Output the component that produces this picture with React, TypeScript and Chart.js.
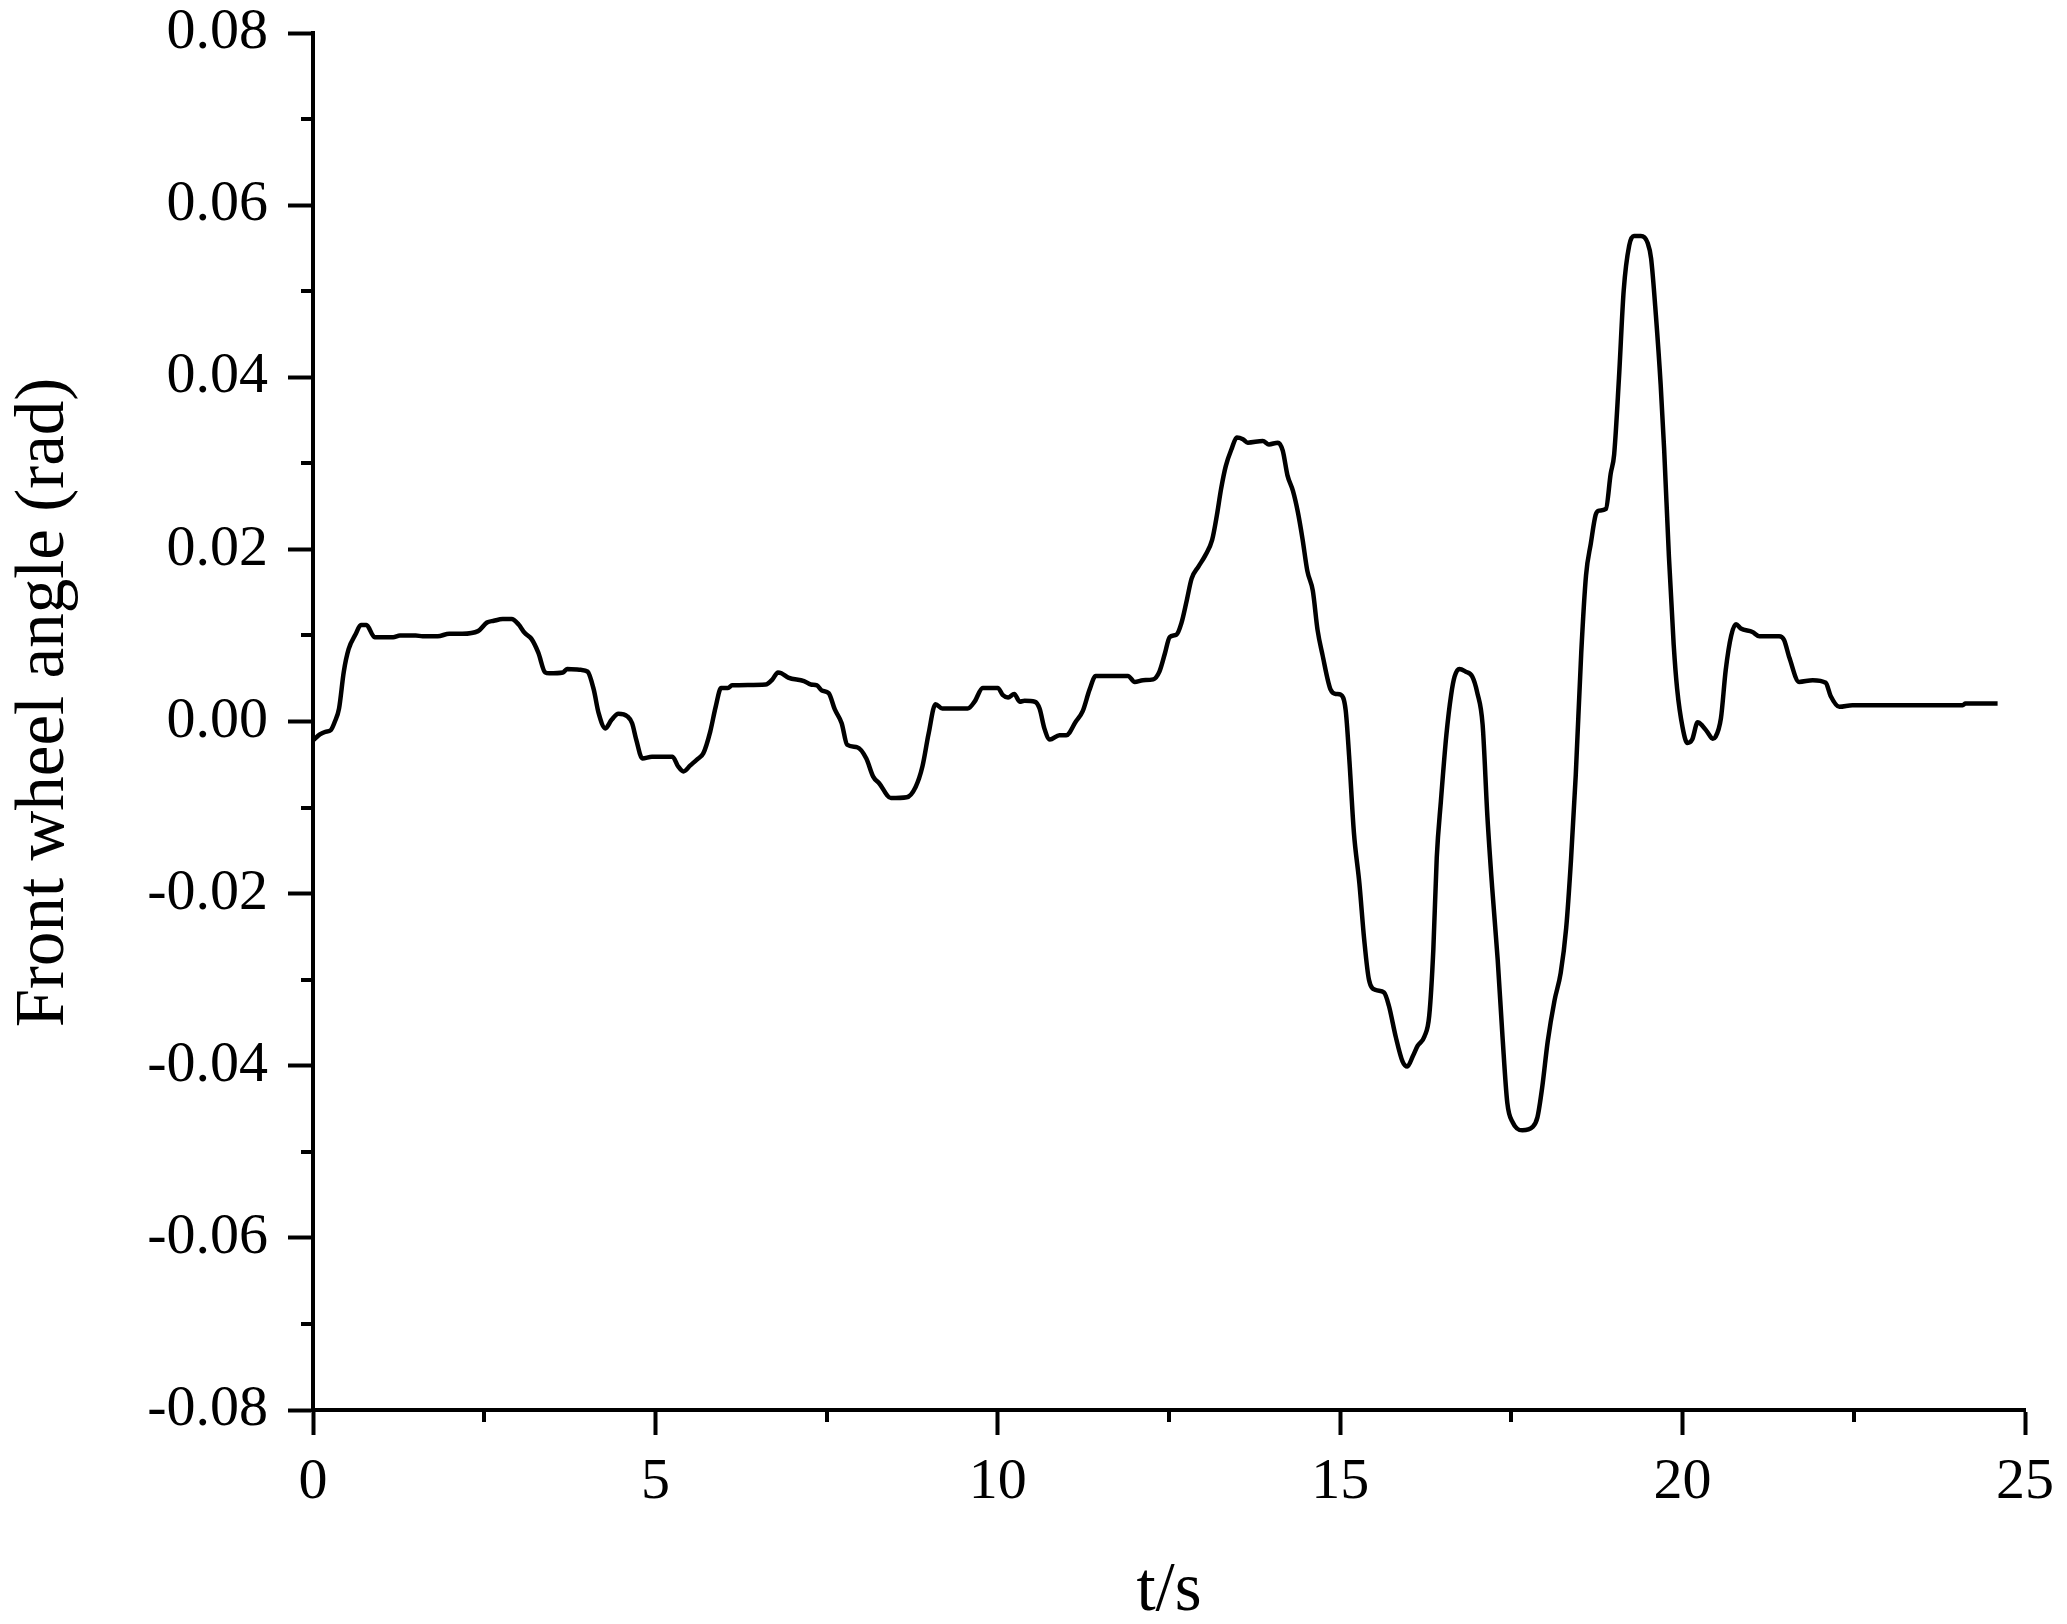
import React, { useEffect, useRef } from 'react';
import { Chart, registerables } from 'chart.js';

Chart.register(...registerables);

// ---- data ----
const timeValues: number[] = [
  0.0, 0.1, 0.18, 0.26, 0.32, 0.38, 0.45, 0.52, 0.62, 0.7, 0.78, 0.9, 1.17, 1.27, 1.5, 1.6, 1.82, 1.99, 2.18, 2.41,
  2.54, 2.64, 2.77, 2.9, 3.0, 3.09, 3.19, 3.29, 3.39, 3.45, 3.65, 3.71, 3.91, 4.01, 4.1, 4.17, 4.27, 4.36, 4.46, 4.59,
  4.66, 4.72, 4.81, 4.95, 5.25, 5.33, 5.41, 5.51, 5.61, 5.7, 5.8, 5.88, 5.96, 6.06, 6.12, 6.61, 6.71, 6.79, 6.84, 6.94,
  7.17, 7.27, 7.36, 7.43, 7.53, 7.62, 7.72, 7.8, 7.95, 8.08, 8.18, 8.27, 8.44, 8.67, 8.8, 8.9, 8.99, 9.09, 9.19, 9.56,
  9.66, 9.78, 10.0, 10.07, 10.15, 10.24, 10.32, 10.39, 10.54, 10.61, 10.68, 10.76, 10.9, 11.0, 11.14, 11.24, 11.34, 11.43, 11.9, 12.0,
  12.12, 12.27, 12.36, 12.44, 12.51, 12.61, 12.68, 12.76, 12.83, 12.93, 13.03, 13.13, 13.2, 13.26, 13.33, 13.42, 13.49, 13.58, 13.65, 13.87,
  13.96, 14.09, 14.16, 14.23, 14.31, 14.38, 14.45, 14.52, 14.6, 14.67, 14.74, 14.86, 14.94, 15.01, 15.08, 15.13, 15.2, 15.28, 15.35, 15.42,
  15.52, 15.64, 15.71, 15.81, 15.91, 15.98, 16.06, 16.13, 16.23, 16.3, 16.36, 16.41, 16.47, 16.55, 16.62, 16.67, 16.74, 16.83, 16.93, 17.0,
  17.08, 17.15, 17.22, 17.3, 17.37, 17.44, 17.52, 17.66, 17.81, 17.88, 17.95, 18.03, 18.13, 18.22, 18.3, 18.37, 18.44, 18.52, 18.59, 18.66,
  18.73, 18.78, 18.88, 18.95, 19.0, 19.07, 19.14, 19.22, 19.29, 19.39, 19.49, 19.54, 19.61, 19.68, 19.73, 19.8, 19.87, 19.92, 20.0, 20.07,
  20.14, 20.22, 20.29, 20.36, 20.44, 20.48, 20.56, 20.63, 20.71, 20.78, 20.85, 21.02, 21.12, 21.41, 21.48, 21.56, 21.7, 21.9, 22.09, 22.16,
  22.29, 22.48, 24.09, 24.13, 24.6,
];

const angleValues: number[] = [
  -0.0022, -0.0015, -0.0012, -0.001, 0.0, 0.0015, 0.0058, 0.0084, 0.0101, 0.0112, 0.0112, 0.0098, 0.0098, 0.01, 0.01, 0.0099, 0.0099, 0.0102, 0.0102, 0.0105,
  0.0115, 0.0117, 0.0119, 0.0119, 0.0113, 0.0103, 0.0096, 0.008, 0.0057, 0.0056, 0.0057, 0.0061, 0.006, 0.0058, 0.0037, 0.001, -0.0008, 0.0002, 0.0009, 0.0006,
  -0.0002, -0.0021, -0.0043, -0.0041, -0.0041, -0.0052, -0.0058, -0.0051, -0.0044, -0.0037, -0.0012, 0.0017, 0.0039, 0.0039, 0.0042, 0.0043, 0.0049, 0.0057, 0.0056, 0.0051,
  0.0047, 0.0043, 0.0042, 0.0036, 0.0033, 0.0014, -0.0002, -0.0027, -0.003, -0.0043, -0.0064, -0.0072, -0.0089, -0.0088, -0.0076, -0.0052, -0.0014, 0.002, 0.0015, 0.0015,
  0.0023, 0.0039, 0.0039, 0.0031, 0.0028, 0.0032, 0.0023, 0.0024, 0.0023, 0.0015, -0.0008, -0.0021, -0.0016, -0.0016, 0.0, 0.0012, 0.0037, 0.0053, 0.0053, 0.0046,
  0.0048, 0.0049, 0.0058, 0.0079, 0.0098, 0.0101, 0.0114, 0.0141, 0.0166, 0.018, 0.0193, 0.0211, 0.024, 0.027, 0.0297, 0.0318, 0.033, 0.0328, 0.0324, 0.0326,
  0.0322, 0.0324, 0.0315, 0.0286, 0.0268, 0.0244, 0.0212, 0.0175, 0.0152, 0.0106, 0.0078, 0.0037, 0.0032, 0.0031, 0.0013, -0.004, -0.0129, -0.0188, -0.0253, -0.03,
  -0.0312, -0.0315, -0.033, -0.0366, -0.0395, -0.0401, -0.0389, -0.0377, -0.0366, -0.0342, -0.0265, -0.0158, -0.0093, -0.0016, 0.0031, 0.0052, 0.0061, 0.0058, 0.0052, 0.0034,
  -0.0004, -0.0111, -0.0194, -0.0277, -0.0366, -0.0443, -0.0466, -0.0475, -0.0471, -0.046, -0.0425, -0.0372, -0.0324, -0.0292, -0.024, -0.0161, -0.0062, 0.008, 0.017, 0.0207,
  0.024, 0.0245, 0.0247, 0.0288, 0.031, 0.0398, 0.0501, 0.0553, 0.0564, 0.0564, 0.0556, 0.0538, 0.0472, 0.0391, 0.0317, 0.0192, 0.0089, 0.0038, -0.0007, -0.0025,
  -0.0021, -0.0001, -0.0005, -0.0012, -0.002, -0.0018, 0.0004, 0.006, 0.01, 0.0113, 0.0108, 0.0104, 0.0099, 0.0099, 0.0095, 0.0074, 0.0046, 0.0048, 0.0045, 0.003,
  0.0017, 0.0019, 0.0019, 0.0021, 0.0021,
];

const xMajorTicks: number[] = [0, 5, 10, 15, 20, 25];
const xMinorTicks: number[] = [2.5, 7.5, 12.5, 17.5, 22.5];
const yMajorTicks: number[] = [-0.08, -0.06, -0.04, -0.02, 0.0, 0.02, 0.04, 0.06, 0.08];
const yMinorTicks: number[] = [-0.07, -0.05, -0.03, -0.01, 0.01, 0.03, 0.05, 0.07];

const xTitle = 't/s';
const yTitle = 'Front wheel angle (rad)';

const FONT = '"Liberation Serif", "Times New Roman", serif';

const decorPlugin = {
  id: 'decor',
  afterDraw(chart: any) {
    const { ctx, chartArea, scales } = chart;
    ctx.save();
    ctx.strokeStyle = '#000';
    ctx.lineWidth = 4;
    ctx.lineCap = 'butt';
    xMinorTicks.forEach((v) => {
      const px = Math.round(scales.x.getPixelForValue(v));
      ctx.beginPath();
      ctx.moveTo(px, chartArea.bottom);
      ctx.lineTo(px, chartArea.bottom + 12);
      ctx.stroke();
    });
    yMinorTicks.forEach((v) => {
      const py = Math.round(scales.y.getPixelForValue(v));
      ctx.beginPath();
      ctx.moveTo(chartArea.left - 12, py);
      ctx.lineTo(chartArea.left, py);
      ctx.stroke();
    });
    // rotated y-axis title
    ctx.translate(45, (chartArea.top + chartArea.bottom) / 2 - 19);
    ctx.rotate(-Math.PI / 2);
    ctx.fillStyle = '#000';
    ctx.font = `69px ${FONT}`;
    ctx.textAlign = 'center';
    ctx.textBaseline = 'middle';
    ctx.fillText(yTitle, 0, 0);
    ctx.restore();
  },
};

export default function App() {
  const canvasRef = useRef<HTMLCanvasElement | null>(null);

  useEffect(() => {
    if (!canvasRef.current) return;
    const chart = new Chart(canvasRef.current, {
      type: 'line',
      data: {
        datasets: [
          {
            data: timeValues.map((t, i) => ({ x: t, y: angleValues[i] })),
            borderColor: '#000',
            borderWidth: 4.5,
            pointRadius: 0,
            fill: false,
            cubicInterpolationMode: 'monotone',
          },
        ],
      },
      options: {
        animation: false,
        responsive: false,
        devicePixelRatio: 1,
        layout: { padding: { top: 33, right: 41, bottom: 0, left: 0 } },
        plugins: {
          legend: { display: false },
          tooltip: { enabled: false },
        },
        scales: {
          x: {
            type: 'linear',
            min: 0,
            max: 25,
            afterBuildTicks: (s: any) => {
              s.ticks = xMajorTicks.map((v) => ({ value: v }));
            },
            afterFit: (s: any) => {
              s.height = 214;
            },
            ticks: {
              autoSkip: false,
              maxRotation: 0,
              padding: 13,
              color: '#000',
              font: { family: FONT, size: 58, lineHeight: 1.2 },
              callback: (v: any) => String(v),
            },
            grid: {
              display: true,
              drawOnChartArea: false,
              drawTicks: true,
              tickLength: 25,
              tickWidth: 4,
              tickColor: '#000',
            },
            border: { display: true, color: '#000', width: 4 },
            title: {
              display: true,
              text: xTitle,
              color: '#000',
              font: { family: FONT, size: 69, lineHeight: 1.1 },
              padding: { top: 0, bottom: -6 },
            },
          },
          y: {
            type: 'linear',
            min: -0.08,
            max: 0.08,
            afterBuildTicks: (s: any) => {
              s.ticks = yMajorTicks.map((v) => ({ value: v }));
            },
            afterFit: (s: any) => {
              s.width = 313;
              s.paddingTop = 0;
              s.paddingBottom = 0;
            },
            ticks: {
              autoSkip: false,
              padding: 20,
              color: '#000',
              font: { family: FONT, size: 58, lineHeight: 1.0 },
              callback: (v: any) => Number(v).toFixed(2),
            },
            grid: {
              display: true,
              drawOnChartArea: false,
              drawTicks: true,
              tickLength: 25,
              tickWidth: 4,
              tickColor: '#000',
            },
            border: { display: true, color: '#000', width: 4 },
            title: { display: false },
          },
        },
      },
      plugins: [decorPlugin],
    } as any);
    return () => chart.destroy();
  }, []);

  return (
    <div style={{ position: 'absolute', left: 0, top: 0, width: 2067, height: 1624, background: '#fff' }}>
      <canvas ref={canvasRef} width={2067} height={1624} style={{ display: 'block' }} />
    </div>
  );
}
